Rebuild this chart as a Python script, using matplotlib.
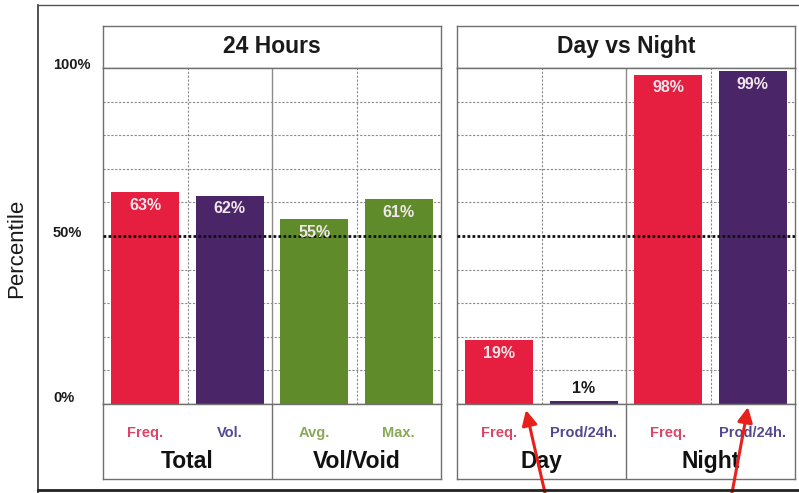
import matplotlib
matplotlib.use("Agg")
import matplotlib.pyplot as plt

plt.rcParams['font.family'] = ['Liberation Sans', 'DejaVu Sans']

# ---- data ----
panel_titles = ["24 Hours", "Day vs Night"]
left_labels = ["Freq.", "Vol.", "Avg.", "Max."]
left_values = [63, 62, 55, 61]
left_groups = ["Total", "Vol/Void"]
right_labels = ["Freq.", "Prod/24h.", "Freq.", "Prod/24h."]
right_values = [19, 1, 98, 99]
right_groups = ["Day", "Night"]
y_ticks = [0, 50, 100]
y_tick_labels = ["0%", "50%", "100%"]
y_label = "Percentile"

RED = "#E61E40"
PURPLE = "#4A2568"
GREEN = "#5F8B2B"
left_colors = [RED, PURPLE, GREEN, GREEN]
right_colors = [RED, PURPLE, RED, PURPLE]
left_text_colors = ["#DA4668", "#55488E", "#88A958", "#88A958"]
right_text_colors = ["#DA4668", "#55488E", "#DA4668", "#55488E"]

W, H = 799, 493
fig = plt.figure(figsize=(W / 100, H / 100), dpi=100)


def px_axes(x0, y0, x1, y1):
    return fig.add_axes([x0 / W, (H - y1) / H, (x1 - x0) / W, (y1 - y0) / H])


GRID = "#8a8a8a"
SPINE = "#707070"


def style_box(ax):
    ax.set_xticks([])
    ax.set_yticks([])
    for s in ax.spines.values():
        s.set_color(SPINE)
        s.set_linewidth(1.0)


def draw_panel(x0, x1, title, labels, values, colors, tcolors, groups, show_y):
    # title box
    tax = px_axes(x0, 26, x1, 68)
    style_box(tax)
    tax.text(0.5, 0.52, title, ha="center", va="center", fontsize=16.5,
             fontweight="bold", color="#1a1a1a", transform=tax.transAxes)

    # bar axes
    ax = px_axes(x0, 68, x1, 404)
    n = len(values)
    xs = list(range(n))
    ax.set_xlim(-0.5, n - 0.5)
    ax.set_ylim(0, 100)
    for yv in range(10, 100, 10):
        if yv == 50:
            continue
        ax.axhline(yv, color=GRID, lw=0.8, ls=(0, (2, 1.5)), zorder=0)
    ax.axvline(0.5, color=GRID, lw=0.8, ls=(0, (2, 1.5)), zorder=0)
    ax.axvline(2.5, color=GRID, lw=0.8, ls=(0, (2, 1.5)), zorder=0)
    ax.axvline(1.5, color=GRID, lw=1.0, zorder=0)
    ax.bar(xs, values, width=0.8, color=colors, zorder=2)
    ax.axhline(50, color="#111111", lw=2.0, ls=(0, (1, 0.8)), zorder=3)
    for xv, v in zip(xs, values):
        if v >= 10:
            ax.annotate(f"{v}%", (xv, v), xytext=(0, -4), textcoords="offset points",
                        ha="center", va="top", fontsize=11.5, fontweight="bold",
                        color="#F2E6EC", zorder=4)
        else:
            ax.annotate(f"{v}%", (xv, v), xytext=(0, 3), textcoords="offset points",
                        ha="center", va="bottom", fontsize=11.5, fontweight="bold",
                        color="#1a1a1a", zorder=4)
    ax.set_xticks([])
    ax.set_yticks([])
    for s in ax.spines.values():
        s.set_color(SPINE)
        s.set_linewidth(1.0)
    if show_y:
        xfrac = (53 - x0) / (x1 - x0)
        for yv, yl in zip(y_ticks, y_tick_labels):
            dy = 4 if yv == 0 else 2.2
            ax.annotate(yl, (xfrac, yv), xycoords=ax.get_yaxis_transform(),
                        xytext=(0, dy), textcoords="offset points",
                        ha="left", va="center", fontsize=10.5, fontweight="bold",
                        color="#1a1a1a", annotation_clip=False)

    # category box
    cax = px_axes(x0, 404, x1, 479)
    style_box(cax)
    cax.set_xlim(-0.5, n - 0.5)
    cax.set_ylim(0, 1)
    cax.axvline(1.5, color=SPINE, lw=1.0)
    for xv, lab, tc in zip(xs, labels, tcolors):
        cax.text(xv, 0.61, lab, ha="center", va="center", fontsize=10.5,
                 fontweight="bold", color=tc)
    for gi, g in enumerate(groups):
        cax.text(0.5 + 2 * gi, 0.23, g, ha="center", va="center", fontsize=16.5,
                 fontweight="bold", color="#111111")
    return ax


ax_l = draw_panel(103, 441, panel_titles[0], left_labels, left_values, left_colors,
                  left_text_colors, left_groups, True)
ax_r = draw_panel(457, 795, panel_titles[1], right_labels, right_values, right_colors,
                  right_text_colors, right_groups, False)

# y label
fig.text(17 / W, (H - 248) / H, y_label, rotation=90, ha="center", va="center",
         fontsize=16, color="#1a1a1a")

# outer frame lines
fig.add_artist(plt.Line2D([38 / W, 38 / W], [(H - 5) / H, 0], color="#333333", lw=1.2))
fig.add_artist(plt.Line2D([38 / W, 1], [(H - 5) / H, (H - 5) / H], color="#555555", lw=1.0))
fig.add_artist(plt.Line2D([38 / W, 1], [(H - 490) / H, (H - 490) / H], color="#222222", lw=2.0))

# red arrows
for (tx, ty), (hx, hy) in [((545, 493), (526, 410)), ((732, 493), (748, 407))]:
    fig.add_artist(matplotlib.patches.FancyArrowPatch(
        (tx / W, (H - ty) / H), (hx / W, (H - hy) / H), transform=fig.transFigure,
        arrowstyle="-|>,head_length=9,head_width=4.5", color="#E8201C", lw=2.2,
        mutation_scale=1, shrinkA=0, shrinkB=0))

fig.savefig("out.png", dpi=100)
